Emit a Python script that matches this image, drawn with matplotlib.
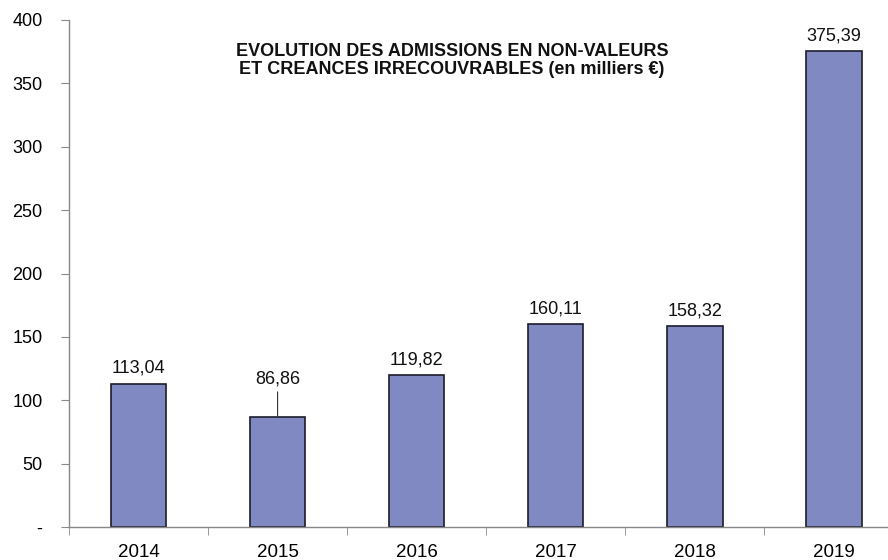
import numpy as np
import matplotlib.pyplot as plt

plt.rcParams['font.family'] = ['Liberation Sans', 'DejaVu Sans']

years = ["2014", "2015", "2016", "2017", "2018", "2019"]
values = [113.04, 86.86, 119.82, 160.11, 158.32, 375.39]
labels = ["113,04", "86,86", "119,82", "160,11", "158,32", "375,39"]

bar_color = "#8189c2"
edge_color = "#1c1c2c"
axis_color = "#888888"

fig = plt.figure(figsize=(8.88, 5.6), dpi=100)
ax = fig.add_axes([69 / 888, 1 - 527 / 560, 1 - 69 / 888, (527 - 20) / 560])

x = np.arange(len(years))
ax.bar(x, values, width=0.40, color=bar_color, edgecolor=edge_color, linewidth=1.2)

for i, (v, lab) in enumerate(zip(values, labels)):
    if lab == "86,86":
        # label pushed up with a leader line
        ax.annotate(lab, xy=(x[i], v), xytext=(0, 21), textcoords="offset points",
                    ha="center", va="bottom", fontsize=13, color="#111111",
                    arrowprops=dict(arrowstyle="-", color="#333333", lw=0.8,
                                    shrinkA=1, shrinkB=0))
    else:
        ax.annotate(lab, xy=(x[i], v), xytext=(0, 5), textcoords="offset points",
                    ha="center", va="bottom", fontsize=13, color="#111111")

ax.set_xlim(-0.5, 5.39)
ax.set_ylim(0, 400)
ax.set_yticks(np.arange(0, 401, 50))
ax.set_yticklabels(["-"] + [str(t) for t in range(50, 401, 50)], fontsize=13)

ax.set_xticks(x)
ax.set_xticklabels(years, fontsize=13.5)
ax.set_xticks(np.arange(-0.5, 5.5, 1), minor=True)
ax.tick_params(axis="x", which="major", length=0, pad=12)
ax.tick_params(axis="x", which="minor", length=6, color=axis_color, direction="out")
ax.tick_params(axis="y", length=6, color=axis_color, direction="out", pad=13)

for s in ["top", "right"]:
    ax.spines[s].set_visible(False)
for s in ["left", "bottom"]:
    ax.spines[s].set_color(axis_color)
    ax.spines[s].set_linewidth(1.0)

fig.text(452 / 888, 1 - 60.5 / 560,
         "EVOLUTION DES ADMISSIONS EN NON-VALEURS\nET CREANCES IRRECOUVRABLES (en milliers €)",
         ha="center", va="center", fontsize=13, fontweight="bold",
         linespacing=1.1, color="#111111")

fig.savefig("out.png", dpi=100)
